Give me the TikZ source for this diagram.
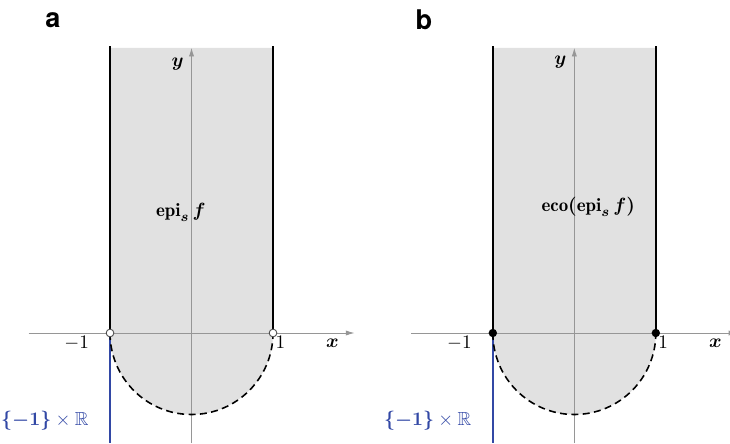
\documentclass[tikz,border=0pt]{standalone}
\usepackage{amsmath,amssymb}
\usepackage{fontspec}
\usepackage{tikz}
\usetikzlibrary{arrows.meta}
\newfontfamily\panelfont{TeX Gyre Heros}
\definecolor{epiGray}{RGB}{225,225,225}
\definecolor{axisGray}{RGB}{150,150,150}
\definecolor{lineBlue}{RGB}{50,72,165}

\begin{document}
\begin{tikzpicture}[x=46.6pt, y=46.6pt,
  every node/.style={font=\fontsize{10.8}{13}\selectfont},
  axis/.style={draw=axisGray, line width=0.5pt, -{Latex[length=5pt,width=3pt]}},
  wall/.style={draw=black, line width=1.1pt},
  rim/.style={draw=black, line width=0.9pt, dash pattern=on 4pt off 2.5pt},
  fiber/.style={draw=lineBlue, line width=0.8pt},
  opendot/.style={circle, draw=black!70, fill=white, line width=0.5pt, inner sep=0pt, minimum size=4.4pt},
  fulldot/.style={circle, fill=black, inner sep=0pt, minimum size=4.8pt},
  panel/.style={font=\panelfont\bfseries\fontsize{15.5}{18}\selectfont}]
  \useasboundingbox (-2.35,-1.35) rectangle (6.607,4.086);

  % panel a
  \begin{scope}
    \fill[epiGray] (-1,3.5) -- (-1,0) arc (180:360:1) -- (1,3.5) -- cycle;
    \coordinate (aW) at (-2,0);   \coordinate (aE) at (2,0);
    \coordinate (aS) at (0,-1.35); \coordinate (aN) at (0,3.5);
    \coordinate (aLtop) at (-1,3.52); \coordinate (aRtop) at (1,3.52);
    \coordinate (aLbot) at (-1,-1.35);
    \coordinate (aL) at (-1,0);
    \coordinate (aR) at (1,0);
    \draw[axis] (aW) -- (aE);
    \draw[axis] (aS) -- (aN);
    \draw[fiber] (aL) -- (aLbot);
    \draw[wall] (aLtop) -- (aL);
    \draw[wall] (aRtop) -- (aR);
    \draw[rim] (aL) arc (180:360:1);
    \node[opendot] (aLdot) at (aL) {};
    \node[opendot] (aRdot) at (aR) {};
    \node (a-m1) at (-1.41,-0.12) {$-1$};
    \node (a-p1) at (1.09,-0.12) {$1$};
    \node (a-x) at (1.73,-0.12) {$\boldsymbol{x}$};
    \node (a-y) at (-0.17,3.3) {$\boldsymbol{y}$};
    \node (a-set) at (-0.13,1.48) {$\mathbf{epi}_{\boldsymbol{s}}\,\boldsymbol{f}$};
    \node[text=lineBlue] (a-fib) at (-1.8,-1.08) {$\boldsymbol{\{-1\}}\times\mathbb{R}$};
  \end{scope}
  \node[panel] (a-tag) at (-1.70,3.84) {a};

  % panel b
  \begin{scope}[shift={(4.697,0)}]
    \fill[epiGray] (-1,3.5) -- (-1,0) arc (180:360:1) -- (1,3.5) -- cycle;
    \coordinate (bW) at (-2,0);   \coordinate (bE) at (2,0);
    \coordinate (bS) at (0,-1.35); \coordinate (bN) at (0,3.5);
    \coordinate (bLtop) at (-1,3.52); \coordinate (bRtop) at (1,3.52);
    \coordinate (bLbot) at (-1,-1.35);
    \coordinate (bL) at (-1,0);
    \coordinate (bR) at (1,0);
    \draw[axis] (bW) -- (bE);
    \draw[axis] (bS) -- (bN);
    \draw[fiber] (bL) -- (bLbot);
    \draw[wall] (bLtop) -- (bL);
    \draw[wall] (bRtop) -- (bR);
    \draw[rim] (bL) arc (180:360:1);
    \node[fulldot] (bLdot) at (bL) {};
    \node[fulldot] (bRdot) at (bR) {};
    \node (b-m1) at (-1.41,-0.12) {$-1$};
    \node (b-p1) at (1.09,-0.12) {$1$};
    \node (b-x) at (1.73,-0.12) {$\boldsymbol{x}$};
    \node (b-y) at (-0.17,3.32) {$\boldsymbol{y}$};
    \node (b-set) at (0.17,1.55) {$\mathbf{eco}\boldsymbol{(}\mathbf{epi}_{\boldsymbol{s}}\,\boldsymbol{f}\boldsymbol{)}$};
    \node[text=lineBlue] (b-fib) at (-1.8,-1.07) {$\boldsymbol{\{-1\}}\times\mathbb{R}$};
  \end{scope}
  \node[panel] (b-tag) at (2.85,3.84) {b};
\end{tikzpicture}
\end{document}
